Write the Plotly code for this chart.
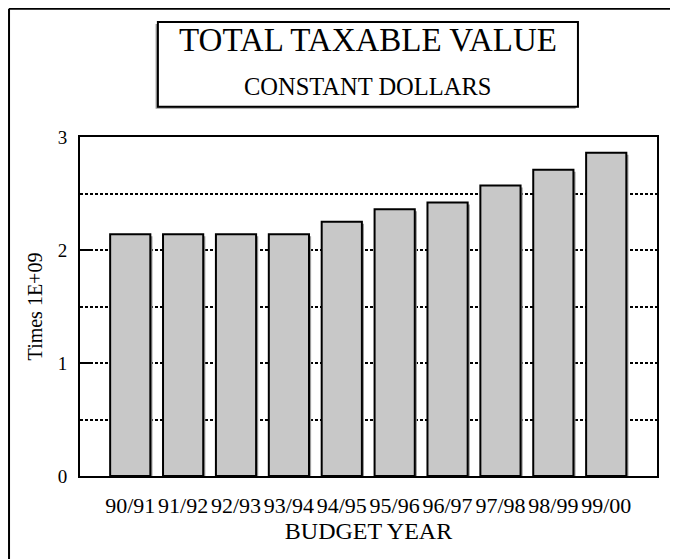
import plotly.graph_objects as go

# budget years and total taxable value (constant dollars, times 1E+09)
years = ["90/91", "91/92", "92/93", "93/94", "94/95",
         "95/96", "96/97", "97/98", "98/99", "99/00"]
values = [2.14, 2.14, 2.14, 2.14, 2.25, 2.36, 2.42, 2.57, 2.71, 2.86]
y_ticks = [0, 1, 2, 3]

FONT = "Liberation Serif, Times New Roman, serif"
BAR_W = 0.76
DOTS = "3px,2px"

fig = go.Figure()

# drop shadow behind each bar, nudged right and down a couple of pixels
fig.add_trace(go.Bar(
    x=years, y=values, base=-0.018, width=BAR_W, offset=-BAR_W / 2 + 0.04,
    marker=dict(color="#9a9a9a", line=dict(width=0)),
    hoverinfo="skip", showlegend=False,
))
fig.add_trace(go.Bar(
    x=years, y=values, width=BAR_W, offset=-BAR_W / 2,
    marker=dict(color="#c8c8c8", line=dict(color="black", width=2)),
    showlegend=False,
))

fig.update_layout(
    width=678, height=559,
    margin=dict(l=72, r=29, t=129, b=91),
    paper_bgcolor="white", plot_bgcolor="white",
    font=dict(family=FONT, color="black", size=20),
    barmode="overlay",
    xaxis=dict(
        type="category", range=[-0.95, 9.96],
        showline=True, mirror=True, linecolor="black", linewidth=2,
        ticks="", showgrid=False,
        tickfont=dict(size=22),
        ticklabelstandoff=9,
        title=dict(text="BUDGET YEAR", font=dict(size=24), standoff=5),
    ),
    yaxis=dict(
        range=[0, 3], tickvals=y_ticks,
        showline=True, mirror=True, linecolor="black", linewidth=2,
        ticks="inside", ticklen=13, tickwidth=2, tickcolor="black",
        showgrid=True, gridcolor="black", gridwidth=2, griddash=DOTS,
        minor=dict(dtick=0.5, showgrid=True, gridcolor="black", gridwidth=2,
                   griddash=DOTS, ticks=""),
        zeroline=False,
        tickfont=dict(size=19),
        ticklabelstandoff=7,
        title=dict(text="Times 1E+09", font=dict(size=20), standoff=10),
    ),
    shapes=[
        # outer frame (left and top edges)
        dict(type="line", xref="paper", yref="paper", x0=-0.123, x1=1.07,
             y0=1.378, y1=1.378, line=dict(color="black", width=2)),
        dict(type="line", xref="paper", yref="paper", x0=-0.123, x1=-0.123,
             y0=1.378, y1=-0.30, line=dict(color="black", width=2)),
        # title box with shadow
        dict(type="rect", xref="paper", yref="paper", x0=0.131, x1=0.859,
             y0=1.083, y1=1.333, line=dict(width=0), fillcolor="#9a9a9a"),
        dict(type="rect", xref="paper", yref="paper", x0=0.135, x1=0.863,
             y0=1.089, y1=1.339, line=dict(color="black", width=2),
             fillcolor="white"),
    ],
    annotations=[
        dict(text="TOTAL TAXABLE VALUE", xref="paper", yref="paper",
             x=0.499, y=1.285, xanchor="center", yanchor="middle",
             showarrow=False, font=dict(size=33)),
        dict(text="CONSTANT DOLLARS", xref="paper", yref="paper",
             x=0.499, y=1.150, xanchor="center", yanchor="middle",
             showarrow=False, font=dict(size=24.5)),
    ],
)

fig.write_html("out.html")
